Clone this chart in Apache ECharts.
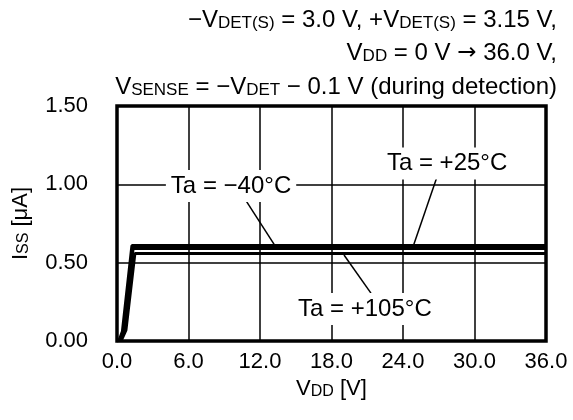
<!DOCTYPE html>
<html>
<head>
<meta charset="utf-8">
<script src="https://cdn.jsdelivr.net/npm/echarts@6/dist/echarts.min.js"></script>
<style>
html,body{margin:0;padding:0;background:#fff;}
#c{width:573px;height:420px;}
</style>
</head>
<body>
<div id="c"></div>
<script>
// ---- data ----
const xTicks = [0, 6, 12, 18, 24, 30, 36];
const yTicks = [0, 0.5, 1.0, 1.5];
const seriesNames = ['Ta = \u221240\u00b0C', 'Ta = +25\u00b0C', 'Ta = +105\u00b0C'];
const vdd_m40 = [0, 0.2, 0.45, 1.25, 36];
const iss_m40 = [0, 0.01, 0.06, 0.609, 0.61];
const vdd_25 = [0, 0.3, 0.6, 1.35, 36];
const iss_25 = [0, 0.01, 0.07, 0.59, 0.59];
const vdd_105 = [0, 0.4, 0.75, 1.5, 36];
const iss_105 = [0, 0.01, 0.07, 0.558, 0.558];
// annotation label anchor positions (data coords) and leader lines
const labelPos = [[9.57, 0.99], [27.7, 1.133], [20.8, 0.205]];
const leaderFrom = [[10.74, 0.906], [26.85, 1.047], [21.31, 0.306]];
const leaderTo = [[13.2, 0.615], [24.9, 0.615], [19.05, 0.549]];

const FONT = '"Liberation Sans", Arial, sans-serif';
const zip = (a, b) => a.map((v, i) => [v, b[i]]);

const chart = echarts.init(document.getElementById('c'));
const lineSeries = [[vdd_m40, iss_m40], [vdd_25, iss_25], [vdd_105, iss_105]].map((d, i) => ({
  name: seriesNames[i],
  type: 'line',
  data: zip(d[0], d[1]),
  symbol: 'none',
  lineStyle: { color: '#000', width: 3 },
  z: 3,
  silent: true
}));
// annotations series
lineSeries.push({
  type: 'line',
  data: [],
  silent: true,
  markLine: {
    symbol: 'none',
    silent: true,
    label: { show: false },
    lineStyle: { color: '#000', width: 1.5, type: 'solid' },
    data: leaderFrom.map((p, i) => [{ coord: p }, { coord: leaderTo[i] }])
  },
  markPoint: {
    symbol: 'rect',
    symbolSize: 0,
    silent: true,
    label: {
      show: true,
      position: 'inside',
      color: '#000',
      fontFamily: FONT,
      fontSize: 24,
      backgroundColor: '#fff',
      padding: [4, 5, 4, 5],
      formatter: p => p.name
    },
    data: labelPos.map((p, i) => ({ name: seriesNames[i], coord: p }))
  },
  z: 4
});

const subStyle = { fontSize: 16, fontFamily: FONT, color: '#000', verticalAlign: 'bottom' };
const hSubStyle = { fontSize: 17, fontFamily: FONT, color: '#000', verticalAlign: 'bottom' };
const arrowStyle = { fontSize: 23, fontFamily: '"DejaVu Sans", sans-serif', color: '#000' };
const headerLines = [
  '\u2212V{s|DET(S)} = 3.0 V, +V{s|DET(S)} = 3.15 V,',
  'V{s|DD} = 0 V {a|\u2192} 36.0 V,',
  'V{s|SENSE} = \u2212V{s|DET} \u2212 0.1 V (during detection)'
];
const headerTops = [8, 41, 75];

chart.setOption({
  animation: false,
  backgroundColor: '#fff',
  grid: { left: 117, right: 27, top: 106, bottom: 79, show: true, borderColor: '#000', borderWidth: 3.5, backgroundColor: 'transparent' },
  xAxis: {
    type: 'value', min: 0, max: 36, interval: 6,
    axisLine: { show: false }, axisTick: { show: false },
    splitLine: { show: true, lineStyle: { color: '#000', width: 1.5 } },
    axisLabel: { color: '#000', fontSize: 22, fontFamily: FONT, margin: 10, formatter: v => v.toFixed(1) },
    name: 'V{s|DD} [V]',
    nameLocation: 'middle', nameGap: 29,
    nameTextStyle: { color: '#000', fontSize: 22, fontFamily: FONT, rich: { s: subStyle } }
  },
  yAxis: {
    type: 'value', min: 0, max: 1.5, interval: 0.5,
    axisLine: { show: false }, axisTick: { show: false },
    splitLine: { show: true, lineStyle: { color: '#000', width: 1.5 } },
    axisLabel: { color: '#000', fontSize: 22, fontFamily: FONT, margin: 29, formatter: v => v.toFixed(2) },
    name: 'I{s|SS} [\u03bcA]',
    nameLocation: 'middle', nameGap: 85, nameRotate: 90,
    nameTextStyle: { color: '#000', fontSize: 22, fontFamily: FONT, rich: { s: subStyle } }
  },
  graphic: headerLines.map((t, i) => ({
    type: 'text',
    right: 16,
    top: headerTops[i],
    style: { text: t, fill: '#000', font: '24px ' + FONT, rich: { s: hSubStyle, a: arrowStyle } }
  })),
  series: lineSeries
});
</script>
</body>
</html>
